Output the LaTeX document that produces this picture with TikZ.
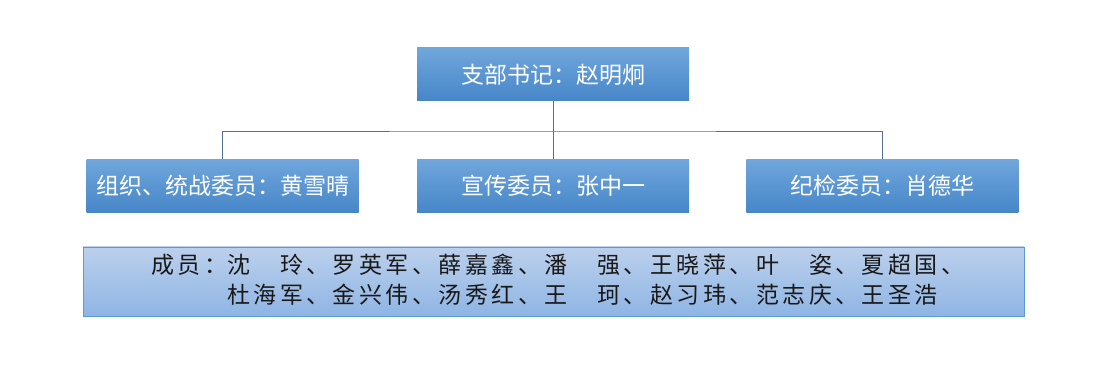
\documentclass[tikz,border=0pt]{standalone}
\usepackage{fontspec}
\newfontfamily\cjk{Noto Sans CJK SC}
\newfontfamily\cjkwide[LetterSpace=15]{Noto Sans CJK SC}
\usetikzlibrary{positioning}

\definecolor{roletop}{RGB}{112,166,220}
\definecolor{rolebot}{RGB}{70,134,200}
\definecolor{crewtop}{RGB}{188,208,236}
\definecolor{crewbot}{RGB}{142,181,228}
\definecolor{crewline}{RGB}{91,155,213}
\definecolor{linkline}{RGB}{84,112,150}

\begin{document}
\begin{tikzpicture}[
    x=1pt, y=-1pt,
    role/.style={shading=axis, top color=roletop, bottom color=rolebot,
                 draw=none, minimum width=272pt, minimum height=53pt,
                 inner sep=0pt, text=white,
                 font=\cjk\fontsize{23}{27}\selectfont},
    crew/.style={shading=axis, top color=crewtop, bottom color=crewbot,
                 draw=crewline, line width=0.8pt,
                 minimum width=941pt, minimum height=69pt, inner sep=0pt},
    link/.style={draw=linkline, line width=0.9pt},
]

\useasboundingbox (0,0) rectangle (1097,371);

% =====================================================================
%  Secretary and committee members
% =====================================================================
\node[role] (secretary) at (553,74.5) {支部书记：赵明炯};
\node[role] (publicity) at (553,186) {宣传委员：张中一};
\node[role, left=58pt of publicity] (organize) {组织、统战委员：黄雪晴};
\node[role, right=57pt of publicity] (discipline) {纪检委员：肖德华};

% --- Connectors ---
\coordinate (bus) at (553,131);
\draw[link] (secretary.south) -- (publicity.north);
\draw[link] (organize.north) |- (bus) -| (discipline.north);

% =====================================================================
%  Members list
% =====================================================================
\node[crew] (crewbox) at (553.5,281.5) {};
\node[anchor=west, inner sep=0pt, text=black!90,
      font=\cjkwide\fontsize{23}{30}\selectfont] (crewlist) at (151,282.5)
    {\begin{tabular}{@{}l@{}l@{}}
        成员： & 沈　玲、罗英军、薛嘉鑫、潘　强、王晓萍、叶　姿、夏超国、\\
               & 杜海军、金兴伟、汤秀红、王　珂、赵习玮、范志庆、王圣浩
     \end{tabular}};

\end{tikzpicture}
\end{document}
